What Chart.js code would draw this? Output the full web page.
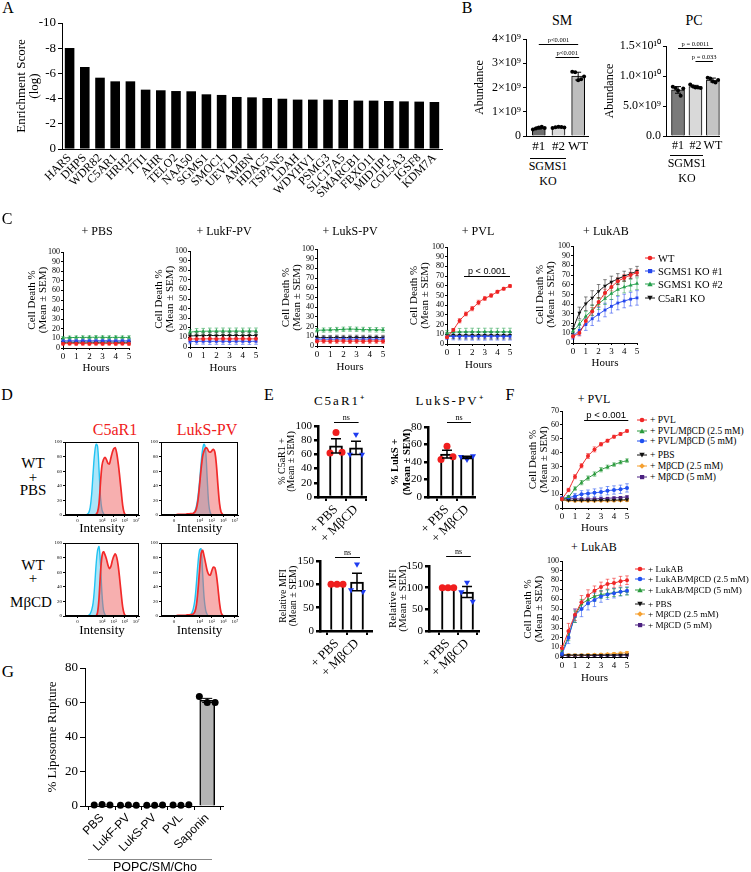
<!DOCTYPE html>
<html lang="en">
<head>
<meta charset="UTF-8">
<title>SGMS1 / C5aR1 figure</title>
<script src="https://cdn.jsdelivr.net/npm/chart.js"></script>
<style>
  body { margin: 0; background: #fff; }
  #fig { position: relative; width: 751px; height: 872px; overflow: hidden; font-family: 'Liberation Serif', 'Times New Roman', serif; color: #000; }
  #fig canvas { position: absolute; }
  .t { position: absolute; transform: translate(-50%, -50%); white-space: nowrap; line-height: 1; }
  .hl { position: absolute; height: 0; border-top: 1px solid #000; }
</style>
</head>
<body>
<div id="fig"></div>
<script>
// ---------- A: CRISPR screen ----------
const genes = ['HARS', 'DHPS', 'WDR82', 'C5AR1', 'HRH2', 'TTI1', 'AHR', 'TELO2', 'NAA50', 'SGMS1', 'SMOC1', 'UEVLD', 'AMBN',
  'HDAC5', 'TSPAN5', 'LDAH', 'WDYHV1', 'PSMG3', 'SLC17A5', 'SMARCB1', 'FBXO11', 'MID1IP1', 'COL5A3', 'IGSF8', 'KDM7A'];
const enrichment = [-8.02, -6.51, -5.66, -5.37, -5.37, -4.71, -4.66, -4.6, -4.58, -4.34, -4.29, -4.13, -4.1,
  -4.05, -3.99, -3.92, -3.92, -3.92, -3.89, -3.84, -3.84, -3.81, -3.78, -3.76, -3.73];

// ---------- B: lipid abundance (units of 10^9) ----------
const koGroups = ['#1', '#2', 'WT'];
const smTickVals = [0, 1, 2, 3, 4];
const smTicks = ['0', '1×10⁹', '2×10⁹', '3×10⁹', '4×10⁹'];
const smMean = [0.33, 0.36, 2.47];
const smSd = [0.045, 0.02, 0.16];
const smKO1 = [0.27, 0.31, 0.35, 0.38, 0.33];
const smKO2 = [0.33, 0.36, 0.38, 0.37, 0.35];
const smWT = [2.65, 2.63, 2.3, 2.34, 2.45];
const pcTickVals = [0, 5, 10, 15];
const pcTicks = ['0.0', '5.0×10⁹', '1.0×10¹⁰', '1.5×10¹⁰'];
const pcMean = [7.68, 8.22, 9.33];
const pcSd = [0.55, 0.22, 0.32];
const pcKO1 = [8.2, 8.0, 7.6, 6.7, 7.9];
const pcKO2 = [8.6, 8.3, 8.1, 8.1, 8.0];
const pcWT = [9.7, 9.6, 9.1, 8.9, 9.35];

// ---------- C: cell death time courses ----------
const hours = [0, 0.5, 1, 1.5, 2, 2.5, 3, 3.5, 4, 4.5, 5];
const cLabels = ['WT', 'SGMS1 KO #1', 'SGMS1 KO #2', 'C5aR1 KO'];
const pbsWT = [4.5, 4.6, 4.5, 4.6, 4.5, 4.6, 4.5, 4.6, 4.5, 4.6, 4.5];
const pbsKO1 = [7.4, 7.5, 7.4, 7.6, 7.5, 7.5, 7.6, 7.5, 7.4, 7.5, 7.5];
const pbsKO2 = [10.4, 10.8, 11.0, 11.0, 11.1, 11.2, 11.1, 11.0, 11.1, 11.0, 11.0];
const pbsC5 = [6.0, 6.1, 6.0, 6.2, 6.1, 6.0, 6.1, 6.2, 6.1, 6.0, 6.1];
const pbsSem = [1.4, 1.6, 1.6, 1.7, 1.6, 1.7, 1.6, 1.7, 1.6, 1.6, 1.7];
const lukfWT = [8.3, 8.4, 8.4, 8.5, 8.4, 8.5, 8.4, 8.5, 8.5, 8.4, 8.5];
const lukfKO1 = [5.8, 5.9, 6.0, 5.9, 6.0, 6.0, 5.9, 6.0, 6.0, 5.9, 6.0];
const lukfKO2 = [15.5, 16.2, 16.4, 16.5, 16.5, 16.6, 16.5, 16.6, 16.5, 16.6, 16.6];
const lukfC5 = [11.5, 11.8, 11.9, 12.0, 11.9, 12.0, 12.0, 12.0, 11.9, 12.0, 12.0];
const lukfSem = [2.5, 3.0, 3.0, 3.2, 3.2, 3.2, 3.2, 3.2, 3.2, 3.2, 3.2];
const luksWT = [5.0, 5.1, 5.0, 5.1, 5.1, 5.0, 5.1, 5.0, 5.1, 5.1, 5.0];
const luksKO1 = [7.0, 7.1, 7.0, 7.1, 7.2, 7.1, 7.0, 7.1, 7.1, 7.0, 7.1];
const luksKO2 = [16.2, 16.4, 16.6, 16.9, 17.2, 17.5, 17.2, 17.0, 16.8, 16.7, 16.6];
const luksC5 = [8.6, 8.7, 8.7, 8.8, 8.7, 8.8, 8.8, 8.7, 8.8, 8.8, 8.7];
const luksSem = [1.8, 2.2, 2.2, 2.3, 2.3, 2.3, 2.3, 2.3, 2.3, 2.3, 2.3];
const pvlWT = [6.9, 14.5, 24.0, 31.0, 36.5, 42.8, 47.0, 50.0, 53.8, 57.0, 59.7];
const pvlKO1 = [7.6, 7.8, 7.8, 7.9, 7.8, 7.9, 7.8, 7.9, 7.9, 7.8, 7.9];
const pvlKO2 = [11.0, 12.2, 12.4, 12.4, 12.5, 12.4, 12.5, 12.5, 12.4, 12.5, 12.5];
const pvlC5 = [9.0, 9.1, 9.0, 9.1, 9.0, 9.1, 9.1, 9.0, 9.1, 9.1, 9.0];
const pvlWTe = [0.8, 1.5, 2.2, 2.0, 2.2, 2.3, 2.0, 1.8, 1.5, 1.4, 1.5];
const pvlSem = [3.0, 3.5, 3.6, 3.8, 3.8, 3.8, 3.8, 3.8, 3.8, 3.8, 3.8];
const lukabWT = [7.0, 10.3, 22.7, 32.6, 42.3, 51.5, 57.7, 63.6, 67.0, 70.0, 72.5];
const lukabKO1 = [7.0, 13.0, 19.0, 25.0, 29.6, 34.0, 37.8, 41.2, 43.3, 45.2, 46.5];
const lukabKO2 = [12.0, 19.5, 27.5, 33.7, 40.5, 45.7, 50.9, 55.0, 57.7, 59.5, 61.2];
const lukabC5 = [14.4, 31.0, 40.5, 46.4, 53.3, 58.8, 62.9, 66.0, 69.0, 71.5, 74.0];
const lukabWTe = [2, 3, 4, 4, 4.5, 4, 4, 3.5, 3.5, 3, 3];
const lukabKO1e = [3, 5, 6, 7, 7, 7, 7, 7, 7, 7, 7.5];
const lukabKO2e = [3, 4, 5, 5.5, 6, 6, 6, 6, 6, 6, 6];
const lukabC5e = [3, 6, 7, 7.5, 7, 6.5, 6, 5.5, 5, 5, 5];

// ---------- D: flow cytometry histograms ----------
const histX = [20, 22, 24, 26, 28, 30, 32, 34, 36, 38, 40, 42, 44, 46, 48, 50, 52, 54, 56, 58, 60, 62, 64, 66, 68, 70, 72, 74, 76, 78, 80, 82, 84, 86, 88, 90];
const histTickVals = [17, 50, 66, 81, 96];
const histTickLabels = ['0', '10⁴', '10⁵', '10⁶', '10⁷'];
const c5PbsIso = [0, 0, 0, 0, 0, 1, 3, 10, 28, 58, 84, 97, 94, 62, 24, 7, 2, 0, 0, 0, 0, 0, 0, 0, 0, 0, 0, 0, 0, 0, 0, 0, 0, 0, 0, 0];
const c5Pbs = [0, 0, 0, 0, 0, 0, 0, 0, 0, 0, 0, 1, 4, 16, 45, 68, 76, 79, 76, 71, 70, 78, 86, 91, 92, 84, 70, 52, 32, 13, 3, 0, 0, 0, 0, 0];
const luksPbsIso = [0, 0, 0, 0, 0, 0, 0, 0, 0, 0, 1, 2, 5, 12, 25, 45, 70, 90, 97, 88, 50, 15, 3, 0, 0, 0, 0, 0, 0, 0, 0, 0, 0, 0, 0, 0];
const luksPbs = [0.5, 1, 1, 1, 1, 1, 1, 1.5, 1.5, 2, 2, 2.5, 4, 9, 20, 40, 62, 80, 88, 92, 91, 87, 86, 88, 90, 86, 68, 40, 16, 4, 1, 0, 0, 0, 0, 0];
const c5MbcdIso = [0, 0, 0, 0, 0, 0, 1, 3, 8, 18, 40, 70, 90, 95, 70, 30, 8, 2, 0, 0, 0, 0, 0, 0, 0, 0, 0, 0, 0, 0, 0, 0, 0, 0, 0, 0];
const c5Mbcd = [0, 0, 0, 0, 0, 0, 0, 0, 0, 0, 0, 0, 5, 25, 60, 82, 88, 84, 78, 70, 65, 68, 76, 82, 85, 80, 68, 50, 30, 12, 3, 0, 0, 0, 0, 0];
const luksMbcdIso = [0, 0, 0, 0, 0, 0, 0, 0, 0, 1, 4, 10, 22, 45, 72, 90, 92, 60, 25, 8, 2, 0, 0, 0, 0, 0, 0, 0, 0, 0, 0, 0, 0, 0, 0, 0];
const luksMbcd = [0.5, 1, 1, 1, 1, 1, 1, 1.5, 1.5, 2, 2, 3, 6, 15, 35, 62, 85, 90, 82, 72, 62, 57, 56, 62, 67, 66, 56, 38, 18, 5, 1, 0, 0, 0, 0, 0];

// ---------- E: surface staining ----------
const eGroups = ['+ PBS', '+ MβCD'];
const c5PosMean = [72, 69.3];
const c5PosSem = [10, 9.3];
const c5PosPbs = [91, 62, 63];
const c5PosMbcd = [88, 60, 60];
const lukPosMean = [49, 45.3];
const lukPosSem = [4.5, 1.2];
const lukPosPbs = [58, 43, 46];
const lukPosMbcd = [43, 46, 47];
const mfiC5Mean = [100, 105];
const mfiC5Sem = [0, 19];
const mfiC5PbsPts = [100, 100, 100];
const mfiC5MbcdPts = [143, 88, 84];
const mfiLukMean = [100, 90];
const mfiLukSem = [0, 12.5];
const mfiLukPbsPts = [100, 100, 100];
const mfiLukMbcdPts = [112, 90, 68];
const pct100Ticks = [0, 20, 40, 60, 80, 100];
const pct80Ticks = [0, 20, 40, 60, 80];
const mfiTicks = [0, 50, 100, 150];

// ---------- F: MβCD treatment ----------
const fPvlLabels = ['+ PVL', '+ PVL/MβCD (2.5 mM)', '+ PVL/MβCD (5 mM)', '+ PBS', '+ MβCD (2.5 mM)', '+ MβCD (5 mM)'];
const fLukabLabels = ['+ LukAB', '+ LukAB/MβCD (2.5 mM)', '+ LukAB/MβCD (5 mM)', '+ PBS', '+ MβCD (2.5 mM)', '+ MβCD (5 mM)'];
const fPVL = [6.5, 13.0, 22.6, 30.5, 37.5, 42.3, 46.0, 48.6, 51.5, 53.4, 55.6];
const fPVLm25 = [6.5, 8.0, 14.0, 18.3, 21.6, 24.5, 27.6, 29.6, 31.3, 33.0, 34.2];
const fPVLm5 = [7.0, 7.5, 8.5, 10.0, 10.5, 11.0, 11.5, 12.5, 13.0, 13.5, 14.5];
const fPBS = [6.0, 5.6, 5.5, 5.5, 5.5, 5.5, 5.6, 5.6, 5.7, 5.8, 6.0];
const fM25 = [6.0, 5.2, 5.0, 5.0, 5.0, 5.0, 5.1, 5.1, 5.2, 5.3, 5.5];
const fM5 = [7.0, 6.8, 6.6, 6.5, 6.5, 6.6, 6.8, 7.0, 7.3, 7.6, 8.0];
const fPVLe = [0.8, 1.2, 1.5, 1.5, 1.8, 1.8, 1.2, 1.0, 1.0, 1.0, 0.8];
const fPVLm25e = [0.8, 0.8, 1.2, 1.5, 1.5, 1.5, 1.5, 1.3, 1.2, 1.2, 1.2];
const fPVLm5e = [1.0, 1.5, 2.0, 2.5, 2.5, 2.8, 3.0, 3.0, 3.0, 3.0, 3.0];
const fCtrlE = [0.6, 0.5, 0.5, 0.5, 0.5, 0.5, 0.5, 0.6, 0.6, 0.6, 0.7];
const fLukAB = [9, 27, 44, 57, 64, 69, 73, 76, 77, 79, 80];
const fLukABm25 = [3, 20, 43, 50, 56, 59.5, 63, 65, 66.5, 68, 69];
const fLukABm5 = [5, 22, 42, 55, 59.5, 63, 65, 66, 67, 68, 68.5];
const fPBS2 = [2, 2, 2, 2, 2, 2, 2, 2, 2, 2.2, 2.3];
const fM25b = [3, 2.2, 2, 2, 2.3, 2.5, 2.8, 3, 3.5, 4, 4.5];
const fM5b = [2, 1.6, 1.5, 1.5, 1.5, 1.6, 1.8, 1.9, 2, 2, 2.3];
const fLukABe = [3, 8, 6, 7, 6, 5, 5, 5, 5, 5, 4.5];
const fLukABm25e = [2, 6, 7, 8, 7, 7, 6, 5, 5, 4.5, 4];
const fLukABm5e = [2, 5, 6, 5, 5, 5, 4, 4, 4, 4, 4];
const fCtrl2E = [0.8, 0.8, 0.8, 0.8, 0.8, 0.8, 0.9, 0.9, 1.0, 1.0, 1.1];

// ---------- G: liposome rupture ----------
const gLabels = ['PBS', 'LukF-PV', 'LukS-PV', 'PVL', 'Saponin'];
const gMean = [0.7, 0.5, 0.5, 0.6, 61.2];
const gSem = [0, 0, 0, 0, 1.2];
const gPBS = [0.6, 0.9, 0.6];
const gLukF = [0.4, 0.6, 0.5];
const gLukS = [0.5, 0.4, 0.6];
const gPVL = [0.6, 0.5, 0.7];
const gSaponin = [63.5, 60, 60];
const gTicks = [0, 20, 40, 60, 80];

// ============ drawing ============
const fig = document.getElementById('fig');
const SERIF = "'Liberation Serif', 'Times New Roman', serif";
const SANS = "'Liberation Sans', Arial, sans-serif";
Chart.defaults.font.family = SERIF;
Chart.defaults.color = '#000';

function merge(a, b) {
  for (const k in b) {
    if (b[k] === undefined) continue;
    if (b[k] && typeof b[k] === 'object' && !Array.isArray(b[k]) && a[k] && typeof a[k] === 'object') merge(a[k], b[k]);
    else a[k] = b[k];
  }
  return a;
}
function axis(extra) {
  return merge({
    border: {display: true, color: '#000', width: 1},
    grid: {display: true, drawOnChartArea: false, drawTicks: true, tickLength: 3, color: '#000', lineWidth: 1},
    ticks: {color: '#000', autoSkip: false, padding: 2, font: {size: 10}}
  }, extra || {});
}
function lh(f) { return f.size * (f.lineHeight || 1.2); }

// place a canvas so that the plot area lands on plot {x1,y1,x2,y2}
function mount(box, plot, cfg, tx, ty) {
  const c = document.createElement('canvas');
  c.width = box.w; c.height = box.h;
  c.style.left = box.x + 'px'; c.style.top = box.y + 'px';
  c.style.width = box.w + 'px'; c.style.height = box.h + 'px';
  fig.appendChild(c);
  const o = cfg.options;
  o.responsive = false; o.animation = false; o.devicePixelRatio = 1; o.events = [];
  o.layout = {padding: {left: 0, top: plot.y1 - box.y, right: box.x + box.w - plot.x2, bottom: 0}};
  o.plugins = Object.assign({legend: {display: false}, tooltip: {enabled: false}}, o.plugins || {});
  const xh = box.y + box.h - plot.y2, yw = plot.x1 - box.x;
  o.scales.x.afterFit = s => { s.height = xh; };
  o.scales.y.afterFit = s => { s.width = yw; };
  const yt = o.scales.y.title, xt = o.scales.x.title;
  if (yt && tx !== undefined) yt.padding = {top: tx - box.x - lh(yt.font) / 2, bottom: 0};
  if (xt && ty !== undefined) xt.padding = {top: 0, bottom: box.y + box.h - ty - lh(xt.font) / 2};
  return new Chart(c, cfg);
}

// error bars from dataset.err, drawn through the y scale
function drawErr(chart, under) {
  const ctx = chart.ctx;
  chart.data.datasets.forEach((ds, i) => {
    if (!ds.err || !!ds.errUnder !== under) return;
    const meta = chart.getDatasetMeta(i), ys = chart.scales.y;
    const w = ds.capW || 2;
    ctx.save();
    ctx.strokeStyle = ds.errColor || '#000';
    ctx.lineWidth = ds.errWidth || 1;
    meta.data.forEach((el, j) => {
      const e = ds.err[j];
      if (!e) return;
      const v = ds.data[j].y, x = el.x;
      const a = ys.getPixelForValue(v + e), b = ys.getPixelForValue(v - e);
      ctx.beginPath();
      ctx.moveTo(x, a); ctx.lineTo(x, b);
      ctx.moveTo(x - w, a); ctx.lineTo(x + w, a);
      ctx.moveTo(x - w, b); ctx.lineTo(x + w, b);
      ctx.stroke();
    });
    ctx.restore();
  });
}
Chart.register({
  id: 'errbars',
  beforeDatasetsDraw(chart) { drawErr(chart, true); },
  afterDatasetsDraw(chart) { drawErr(chart, false); }
});

function sigBars(items) {
  return {
    id: 'sig',
    afterDraw(chart) {
      const {ctx} = chart, xs = chart.scales.x, ys = chart.scales.y;
      ctx.save();
      for (const s of items) {
        const x1 = xs.getPixelForValue(s.x1), x2 = xs.getPixelForValue(s.x2);
        const y = Math.round(ys.getPixelForValue(s.y)) + 0.5;
        ctx.strokeStyle = '#000'; ctx.lineWidth = s.lw || 1;
        ctx.beginPath(); ctx.moveTo(x1, y); ctx.lineTo(x2, y); ctx.stroke();
        ctx.fillStyle = '#000'; ctx.font = s.font; ctx.textAlign = 'center'; ctx.textBaseline = 'alphabetic';
        ctx.fillText(s.text, (x1 + x2) / 2, y - s.gap);
      }
      ctx.restore();
    }
  };
}
const frame = {
  id: 'frame',
  afterDraw(chart) {
    const a = chart.chartArea, ctx = chart.ctx;
    ctx.save(); ctx.strokeStyle = '#000'; ctx.lineWidth = 1;
    ctx.strokeRect(Math.round(a.left) + 0.5, Math.round(a.top) + 0.5, Math.round(a.width) - 1, Math.round(a.height) - 1);
    ctx.restore();
  }
};

function txt(x, y, s, css) {
  const d = document.createElement('div');
  d.className = 't';
  d.textContent = s;
  d.style.cssText = `left:${x}px;top:${y}px;` + (css || '');
  fig.appendChild(d);
}
function hline(x1, x2, y, color) {
  const d = document.createElement('div');
  d.className = 'hl';
  d.style.cssText = `left:${x1}px;top:${y}px;width:${x2 - x1}px;border-top-color:${color || '#000'}`;
  fig.appendChild(d);
}
function mark(st) {
  const c = st.c;
  if (st.p === 'circle') return `<circle cx="6" cy="4" r="2.3" fill="${c}"/>`;
  if (st.p === 'rect') return `<rect x="4" y="2" width="4.2" height="4.2" fill="${c}"/>`;
  if (st.p === 'rectRot') return `<polygon points="6,1.2 8.8,4 6,6.8 3.2,4" fill="${c}"/>`;
  if (st.r) return `<polygon points="3.3,1.8 8.7,1.8 6,6.6" fill="${c}"/>`;
  return `<polygon points="6,1.4 8.7,6.2 3.3,6.2" fill="${c}"/>`;
}
function legend(x, ys, labels, styles, size) {
  labels.forEach((t, i) => {
    const d = document.createElement('div');
    d.style.cssText = `position:absolute;left:${x}px;top:${ys[i] - 7}px;height:14px;display:flex;align-items:center;font:${size}px ${SERIF};white-space:nowrap`;
    d.innerHTML = `<svg width="12" height="8" style="margin-right:2px"><line x1="1" y1="4" x2="11" y2="4" stroke="${styles[i].c}" stroke-width="1"/>${mark(styles[i])}</svg>${t}`;
    fig.appendChild(d);
  });
}

// ---- line / time-course chart ----
function lineSet(v, e, st) {
  return {
    data: hours.map((h, i) => ({x: h, y: v[i]})), err: e, errUnder: true, errColor: st.ec || st.c, capW: 1.8,
    borderColor: st.c, backgroundColor: st.c, pointStyle: st.p, rotation: st.r || 0,
    pointRadius: st.pr || 2, pointBorderWidth: 0, borderWidth: 1, clip: false, tension: 0.2
  };
}
function timeChart(box, plot, tx, ty, sets, yMax, extra) {
  return mount(box, plot, {
    type: 'line',
    data: {datasets: sets},
    options: {scales: {
      x: axis({type: 'linear', min: 0, max: 5, ticks: {stepSize: 1, font: {size: 9}, maxRotation: 0, padding: 1}, grid: {tickLength: 2},
        title: {display: true, text: 'Hours', font: {size: 11}}}),
      y: axis({min: 0, max: yMax, ticks: {stepSize: 10, font: {size: 8}, padding: 1}, grid: {tickLength: 2},
        title: {display: true, text: ['Cell Death %', '(Mean ± SEM)'], font: {size: 11, lineHeight: 1}}})
    }},
    plugins: extra || []
  }, tx, ty);
}

// ---- bar + dots chart ----
function dotBar(box, plot, tx, p) {
  const sets = [{
    type: 'bar', data: p.mean.map((m, i) => ({x: i, y: m})), backgroundColor: p.fill, borderColor: '#000',
    borderWidth: p.bw, barThickness: p.thick, err: p.err, errColor: '#000', errWidth: p.errW, capW: p.cap, order: 2
  }];
  p.pts.forEach((arr, g) => sets.push({
    type: 'scatter', data: arr.map((v, j) => ({x: g + p.jit[j], y: v})), pointStyle: p.ps[g],
    rotation: p.rot ? p.rot[g] : 0, pointRadius: p.r, backgroundColor: p.pc[g], borderWidth: 0, clip: false, order: 1
  }));
  return mount(box, plot, {
    type: 'bar',
    data: {datasets: sets},
    options: {scales: {
      x: axis({type: 'linear', offset: false, min: p.xmin, max: p.xmax,
        afterBuildTicks: s => { s.ticks = p.labels.map((_, i) => ({value: i})); },
        ticks: merge({callback: v => p.labels[v]}, p.xticks), grid: p.xgrid, border: p.xborder}),
      y: axis({min: 0, max: p.ymax,
        afterBuildTicks: s => { s.ticks = p.yvals.map(v => ({value: v})); },
        ticks: merge({callback: (v, i) => (p.ylabels ? p.ylabels[i] : v)}, p.yticks), grid: p.ygrid, border: p.yborder, title: p.title})
    }},
    plugins: p.plugins || []
  }, tx);
}

// ---- histogram ----
function histo(box, plot, redY, blueY, ty) {
  return mount(box, plot, {
    type: 'line',
    data: {datasets: [
      {data: histX.map((x, i) => ({x, y: redY[i]})), borderColor: '#f22a2a', backgroundColor: 'rgba(240,95,95,0.5)', fill: 'origin', borderWidth: 1.7, pointRadius: 0, tension: 0.35},
      {data: histX.map((x, i) => ({x, y: blueY[i]})), borderColor: '#22c3f2', backgroundColor: 'rgba(115,212,245,0.6)', fill: 'origin', borderWidth: 1.4, pointRadius: 0, tension: 0.35}
    ]},
    options: {scales: {
      x: axis({type: 'linear', min: 0, max: 100, afterBuildTicks: s => { s.ticks = histTickVals.map(v => ({value: v})); },
        ticks: {callback: (v, i) => histTickLabels[i], font: {size: 5}, padding: 1, maxRotation: 0}, grid: {tickLength: 2},
        title: {display: true, text: 'Intensity', font: {size: 13}}}),
      y: axis({min: 0, max: 100, ticks: {stepSize: 20, font: {size: 5}, padding: 1}, grid: {tickLength: 2}})
    }},
    plugins: [frame]
  }, undefined, ty);
}

// ================= Panel A =================
txt(8, 8, 'A', 'font-size:16px');
mount({x: 0, y: 13, w: 452, h: 200}, {x1: 62, y1: 23, x2: 442, y2: 149}, {
  type: 'bar',
  data: {labels: genes, datasets: [{data: enrichment, backgroundColor: '#000', barPercentage: 0.63, categoryPercentage: 1}]},
  options: {scales: {
    x: axis({grid: {display: false, drawTicks: false}, ticks: {font: {size: 12}, minRotation: 45, maxRotation: 45, padding: 2}}),
    y: axis({min: -10, max: 0, reverse: true, ticks: {stepSize: 2, font: {size: 13}, padding: 2}, grid: {tickLength: 4},
      title: {display: true, text: ['Enrichment Score', '(log)'], font: {size: 13, lineHeight: 0.95}}})
  }}
}, 22);

// ================= Panel B =================
txt(467, 8, 'B', 'font-size:16px');
txt(562, 21, 'SM', 'font-size:14px');
txt(694, 21, 'PC', 'font-size:14px');
const jit5 = [-0.3, -0.15, 0, 0.15, 0.3];
const bStyle = {
  jit: jit5, bw: 1, thick: 13, r: 2, ps: ['circle', 'circle', 'circle'], pc: ['#000', '#000', '#000'], errW: 1, cap: 3,
  xgrid: {display: false, drawTicks: false},
  yticks: {font: {size: 12}, padding: 2}, ygrid: {tickLength: 3}
};
dotBar({x: 468, y: 28, w: 126, h: 130}, {x1: 526, y1: 39, x2: 588, y2: 136}, 480, Object.assign({}, bStyle, {
  labels: koGroups, mean: smMean, err: smSd, pts: [smKO1, smKO2, smWT], fill: ['#6e6e6e', '#d9d9d9', '#bebebe'],
  xmin: -0.65, xmax: 2.5, ymax: 4, yvals: smTickVals, ylabels: smTicks,
  xticks: {font: {size: 13}, padding: 3, maxRotation: 0},
  title: {display: true, text: 'Abundance', font: {size: 12}},
  plugins: [sigBars([
    {x1: 0, x2: 2, y: 3.79, text: 'p<0.001', font: `6.5px ${SERIF}`, gap: 2.5},
    {x1: 0.85, x2: 2.05, y: 3.26, text: 'p<0.001', font: `6.5px ${SERIF}`, gap: 2.5}
  ])]
}));
dotBar({x: 598, y: 28, w: 128, h: 130}, {x1: 666, y1: 46, x2: 720, y2: 136}, 610, Object.assign({}, bStyle, {
  labels: koGroups, mean: pcMean, err: pcSd, pts: [pcKO1, pcKO2, pcWT], fill: ['#7a7a7a', '#d9d9d9', '#c4c4c4'],
  xmin: -0.69, xmax: 2.4, ymax: 15, yvals: pcTickVals, ylabels: pcTicks,
  xticks: {font: {size: 12}, padding: 3, maxRotation: 0},
  title: {display: true, text: 'Abundance', font: {size: 12}},
  plugins: [sigBars([
    {x1: 0, x2: 2, y: 14.67, text: 'p = 0.0011', font: `6.5px ${SERIF}`, gap: 2.5},
    {x1: 1, x2: 2, y: 12.5, text: 'p = 0.033', font: `6.5px ${SERIF}`, gap: 2.5}
  ])]
}));
hline(530, 566, 158); txt(548, 166, 'SGMS1', 'font-size:12px'); txt(548, 181, 'KO', 'font-size:12px');
hline(670, 703, 155); txt(687, 163, 'SGMS1', 'font-size:12px'); txt(687, 178, 'KO', 'font-size:12px');

// ================= Panel C =================
txt(7, 219, 'C', 'font-size:16px');
const cSty = [
  {c: '#ee2424', ec: 'rgba(238,36,36,0.55)', p: 'circle'},
  {c: '#2446ee', ec: 'rgba(36,70,238,0.55)', p: 'rect'},
  {c: '#25a04c', ec: 'rgba(37,160,76,0.55)', p: 'triangle', pr: 2.3},
  {c: '#111111', ec: 'rgba(17,17,17,0.5)', p: 'triangle', r: 180, pr: 2.3}
];
const cTitles = ['+ PBS', '+ LukF-PV', '+ LukS-PV', '+ PVL', '+ LukAB'];
[97, 224, 350, 478, 606].forEach((x, i) => txt(x, 231, cTitles[i], 'font-size:12px'));
timeChart({x: 22, y: 240, w: 113, h: 137}, {x1: 63, y1: 252, x2: 129, y2: 348}, 32, 368,
  [lineSet(pbsWT, pbsSem, cSty[0]), lineSet(pbsKO1, pbsSem, cSty[1]), lineSet(pbsKO2, pbsSem, cSty[2]), lineSet(pbsC5, pbsSem, cSty[3])], 100);
timeChart({x: 149, y: 239, w: 113, h: 138}, {x1: 190, y1: 251, x2: 256, y2: 347}, 159, 368,
  [lineSet(lukfWT, lukfSem, cSty[0]), lineSet(lukfKO1, lukfSem, cSty[1]), lineSet(lukfKO2, lukfSem, cSty[2]), lineSet(lukfC5, lukfSem, cSty[3])], 100);
timeChart({x: 276, y: 237, w: 113, h: 140}, {x1: 317, y1: 249, x2: 383, y2: 346}, 286, 367,
  [lineSet(luksWT, luksSem, cSty[0]), lineSet(luksKO1, luksSem, cSty[1]), lineSet(luksKO2, luksSem, cSty[2]), lineSet(luksC5, luksSem, cSty[3])], 100);
timeChart({x: 404, y: 235, w: 112, h: 142}, {x1: 447, y1: 247, x2: 510, y2: 344}, 414, 365,
  [lineSet(pvlWT, pvlWTe, cSty[0]), lineSet(pvlKO1, pvlSem, cSty[1]), lineSet(pvlKO2, pvlSem, cSty[2]), lineSet(pvlC5, pvlSem, cSty[3])], 100,
  [sigBars([{x1: 1.35, x2: 5, y: 70, text: 'p < 0.001', font: `9px ${SANS}`, gap: 3}])]);
timeChart({x: 530, y: 234, w: 113, h: 143}, {x1: 573, y1: 246, x2: 637, y2: 343}, 540, 363,
  [lineSet(lukabWT, lukabWTe, cSty[0]), lineSet(lukabKO1, lukabKO1e, cSty[1]), lineSet(lukabKO2, lukabKO2e, cSty[2]), lineSet(lukabC5, lukabC5e, cSty[3])], 100);
legend(644, [258, 271, 284, 298], cLabels, cSty, 10.5);

// ================= Panel D =================
txt(7, 395, 'D', 'font-size:16px');
txt(115, 430, 'C5aR1', 'font-size:16px;color:#f02020');
txt(207, 430, 'LukS-PV', 'font-size:16px;color:#f02020');
txt(33, 463, 'WT', 'font-size:15px'); txt(33, 477, '+', 'font-size:15px'); txt(33, 490, 'PBS', 'font-size:15px');
txt(33, 565, 'WT', 'font-size:15px'); txt(33, 578, '+', 'font-size:15px'); txt(31, 602, 'MβCD', 'font-size:15px');
histo({x: 48, y: 434, w: 97, h: 103}, {x1: 65, y1: 442, x2: 139, y2: 515}, c5Pbs, c5PbsIso, 529);
histo({x: 146, y: 434, w: 98, h: 103}, {x1: 161, y1: 442, x2: 238, y2: 515}, luksPbs, luksPbsIso, 529);
histo({x: 48, y: 535, w: 97, h: 104}, {x1: 65, y1: 543, x2: 139, y2: 616}, c5Mbcd, c5MbcdIso, 631);
histo({x: 146, y: 535, w: 98, h: 104}, {x1: 161, y1: 543, x2: 238, y2: 616}, luksMbcd, luksMbcdIso, 631);

// ================= Panel E =================
txt(269, 395, 'E', 'font-size:16px');
txt(340, 400, 'C5aR1⁺', 'font-size:13px;letter-spacing:2px');
txt(450, 400, 'LukS-PV⁺', 'font-size:13px;letter-spacing:2px');
const jit3 = [0, -0.3, 0.3];
const eStyle = {
  labels: eGroups, jit: jit3, fill: ['#fff', '#fff'], bw: 2, thick: 13, r: 3.5, ps: ['circle', 'triangle'], rot: [0, 180],
  pc: ['#f01e1e', '#1e3cf0'], errW: 1.5, cap: 5,
  xticks: {font: {size: 13}, minRotation: 45, maxRotation: 45, padding: 1}, xgrid: {lineWidth: 2, tickLength: 4}, xborder: {width: 2.5},
  yticks: {font: {size: 11}, padding: 2}, ygrid: {lineWidth: 2.5, tickLength: 4}, yborder: {width: 2.5}
};
const ns = (x1, x2, y) => sigBars([{x1, x2, y, text: 'ns', font: `8px ${SERIF}`, gap: 3}]);
dotBar({x: 275, y: 405, w: 97, h: 140}, {x1: 318, y1: 426, x2: 366, y2: 497}, 282, Object.assign({}, eStyle, {
  mean: c5PosMean, err: c5PosSem, pts: [c5PosPbs, c5PosMbcd], xmin: -0.9, xmax: 1.5, ymax: 100, yvals: pct100Ticks,
  title: {display: true, text: ['% C5aR1 +', '(Mean ± SEM)'], font: {size: 10, lineHeight: 0.9}},
  plugins: [ns(-0.1, 1.13, 105.6)]
}));
dotBar({x: 388, y: 405, w: 93, h: 140}, {x1: 428, y1: 427, x2: 475, y2: 497}, 395, Object.assign({}, eStyle, {
  mean: lukPosMean, err: lukPosSem, pts: [lukPosPbs, lukPosMbcd], xmin: -0.95, xmax: 1.4, ymax: 80, yvals: pct80Ticks,
  title: {display: true, text: ['% LukS +', '(Mean ± SEM)'], font: {size: 10.5, weight: 'bold', lineHeight: 1.15}},
  plugins: [ns(0, 1.2, 85.7)]
}));
dotBar({x: 276, y: 540, w: 102, h: 135}, {x1: 320, y1: 561, x2: 372, y2: 631}, 283, Object.assign({}, eStyle, {
  mean: mfiC5Mean, err: mfiC5Sem, pts: [mfiC5PbsPts, mfiC5MbcdPts], xmin: -0.85, xmax: 1.75, ymax: 150, yvals: mfiTicks,
  title: {display: true, text: ['Relative MFI', '(Mean ± SEM)'], font: {size: 10, lineHeight: 1}},
  plugins: [ns(-0.1, 1.15, 158.6)]
}));
dotBar({x: 386, y: 540, w: 99, h: 135}, {x1: 429, y1: 566, x2: 479, y2: 631}, 393, Object.assign({}, eStyle, {
  mean: mfiLukMean, err: mfiLukSem, pts: [mfiLukPbsPts, mfiLukMbcdPts], xmin: -1.0, xmax: 1.63, ymax: 150, yvals: mfiTicks,
  title: {display: true, text: ['Relative MFI', '(Mean ± SEM)'], font: {size: 11, lineHeight: 0.95}},
  plugins: [ns(-0.1, 1.2, 173)]
}));

// ================= Panel F =================
txt(510, 395, 'F', 'font-size:16px');
txt(594, 399, '+ PVL', 'font-size:12px');
txt(594, 547, '+ LukAB', 'font-size:12px');
const fRed = {c: '#f02828', ec: 'rgba(240,40,40,0.6)', p: 'circle'};
const fGreen = {c: '#2a9a3c', ec: 'rgba(42,154,60,0.6)', p: 'triangle', pr: 2.3};
const fBlue = {c: '#2050f0', ec: 'rgba(32,80,240,0.55)', p: 'circle'};
const fBlack = {c: '#111111', p: 'triangle', r: 180, pr: 2.3};
const fOrange = {c: '#f5a030', p: 'rectRot'};
const fPurple = {c: '#4b2180', p: 'rect'};
const f1Sty = [fRed, fGreen, fBlue, fBlack, fOrange, fPurple];
const f2Sty = [fRed, fBlue, fGreen, fBlack, fOrange, fPurple];
timeChart({x: 523, y: 400, w: 110, h: 136}, {x1: 562, y1: 411, x2: 627, y2: 508}, 533, 528,
  [lineSet(fPVL, fPVLe, fRed), lineSet(fPVLm25, fPVLm25e, fGreen), lineSet(fPVLm5, fPVLm5e, fBlue),
   lineSet(fPBS, fCtrlE, fBlack), lineSet(fM25, fCtrlE, fOrange), lineSet(fM5, fCtrlE, fPurple)], 70,
  [sigBars([{x1: 1.7, x2: 5.1, y: 63.5, text: 'p < 0.001', font: `9.5px ${SANS}`, gap: 3}])]);
timeChart({x: 518, y: 550, w: 115, h: 136}, {x1: 562, y1: 561, x2: 627, y2: 657}, 528, 678,
  [lineSet(fLukAB, fLukABe, fRed), lineSet(fLukABm25, fLukABm25e, fBlue), lineSet(fLukABm5, fLukABm5e, fGreen),
   lineSet(fPBS2, fCtrl2E, fBlack), lineSet(fM25b, fCtrl2E, fOrange), lineSet(fM5b, fCtrl2E, fPurple)], 100);
legend(636, [420, 430.5, 441, 455, 466, 477], fPvlLabels, f1Sty, 9.5);
legend(634, [569, 579, 589.5, 604, 614, 624.5], fLukabLabels, f2Sty, 9.2);

// ================= Panel G =================
txt(8, 671, 'G', 'font-size:17px');
dotBar({x: 40, y: 655, w: 190, h: 200}, {x1: 85, y1: 668, x2: 223, y2: 806}, 52.5, {
  labels: gLabels, mean: gMean, err: gSem, pts: [gPBS, gLukF, gLukS, gPVL, gSaponin], jit: [-0.3, 0, 0.3],
  fill: ['#b4b4b4', '#b4b4b4', '#b4b4b4', '#b4b4b4', '#b4b4b4'], bw: 1.5, thick: 15, r: 3.5,
  ps: ['circle', 'circle', 'circle', 'circle', 'circle'], pc: ['#000', '#000', '#000', '#000', '#000'], errW: 1, cap: 5,
  xmin: -0.65, xmax: 4.6, ymax: 80, yvals: gTicks,
  xticks: {font: {size: 12, family: SANS}, minRotation: 45, maxRotation: 45, padding: 1}, xgrid: {tickLength: 4},
  yticks: {font: {size: 13}, padding: 2}, ygrid: {tickLength: 5},
  title: {display: true, text: '% Liposome Rupture', font: {size: 13}}
});
hline(88, 212, 859, '#888');
txt(155, 867, 'POPC/SM/Cho', `font-size:12.5px;font-family:${SANS}`);
</script>
</body>
</html>
